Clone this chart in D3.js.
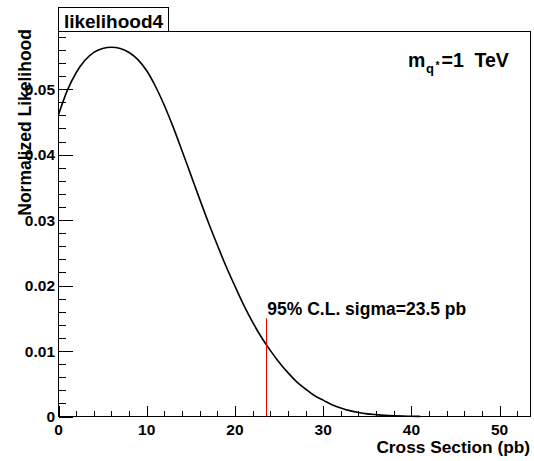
<!DOCTYPE html>
<html>
<head>
<meta charset="utf-8">
<script src="https://cdn.jsdelivr.net/npm/d3@7"></script>
<style>
  html, body { margin: 0; padding: 0; background: #fff; }
  svg { display: block; }
  text { font-family: "Liberation Sans", Arial, Helvetica, sans-serif; font-weight: bold; fill: #000; }
</style>
</head>
<body>
<svg id="chart" width="534" height="461"></svg>
<script>
// Likelihood scan versus signal cross section
const crossSection = [0, 1, 2, 3, 4, 5, 6, 7, 8, 9, 10, 11, 12, 13, 14, 15, 16, 17, 18, 19, 20,
  21, 22, 23, 24, 25, 26, 27, 28, 29, 30, 31, 32, 33, 34, 35, 36, 37, 38, 39, 40, 41];
const likelihood = [0.0461, 0.0498, 0.0525, 0.0544, 0.0556, 0.0562, 0.0564, 0.0562, 0.0556, 0.0545,
  0.0528, 0.0504, 0.0475, 0.0442, 0.0406, 0.0369, 0.0332, 0.0296, 0.0262, 0.0229, 0.0199,
  0.0170, 0.0144, 0.0121, 0.0101, 0.0083, 0.0067, 0.0053, 0.0042, 0.0032, 0.0025,
  0.0018, 0.0013, 0.0009, 0.0006, 0.0004, 0.00028, 0.00018, 0.00011, 0.00006, 0.00003, 0.00001];

// 95% C.L. upper limit marker
const limitValue = 23.5;
const limitMarkerHeight = 0.015;

// Axis ticks and labels
const xMajorTicks = [0, 10, 20, 30, 40, 50];
const xTickLabels = ["0", "10", "20", "30", "40", "50"];
const yMajorTicks = [0, 0.01, 0.02, 0.03, 0.04, 0.05];
const yTickLabels = ["0", "0.01", "0.02", "0.03", "0.04", "0.05"];
const xDomain = [0, 53.5];
const yDomain = [0, 0.0588];

const svg = d3.select("#chart");
const frameLeft = 58.5, frameRight = 530.5, frameTop = 31.5, frameBottom = 416.5;

const x = d3.scaleLinear().domain(xDomain).range([frameLeft, frameRight]);
const y = d3.scaleLinear().domain(yDomain).range([frameBottom, frameTop]);

// frame
svg.append("rect")
  .attr("x", frameLeft).attr("y", frameTop)
  .attr("width", frameRight - frameLeft).attr("height", frameBottom - frameTop)
  .attr("fill", "none").attr("stroke", "#000").attr("stroke-width", 1);

// x axis ticks (drawn inward, minor every 2)
const xMinor = d3.range(0, 53, 2).filter(v => !xMajorTicks.includes(v));
const xAxisMajor = d3.axisTop(x).tickValues(xMajorTicks).tickSize(11).tickFormat("");
const xAxisMinor = d3.axisTop(x).tickValues(xMinor).tickSize(5.5).tickFormat("");
[xAxisMajor, xAxisMinor].forEach(ax => {
  const g = svg.append("g").attr("transform", `translate(0,${frameBottom})`).call(ax);
  g.select(".domain").remove();
  g.selectAll("line").attr("stroke", "#000").attr("shape-rendering", "crispEdges");
});

// y axis ticks (drawn inward, minor every 0.002)
const yMinor = d3.range(0, 59).filter(i => i % 2 === 0 && i % 10 !== 0).map(i => i * 0.001);
const yAxisMajor = d3.axisRight(y).tickValues(yMajorTicks).tickSize(14).tickFormat("");
const yAxisMinor = d3.axisRight(y).tickValues(yMinor).tickSize(7.5).tickFormat("");
[yAxisMajor, yAxisMinor].forEach(ax => {
  const g = svg.append("g").attr("transform", `translate(${frameLeft},0)`).call(ax);
  g.select(".domain").remove();
  g.selectAll("line").attr("stroke", "#000").attr("shape-rendering", "crispEdges");
});

// tick labels
svg.append("g").selectAll("text").data(xMajorTicks).join("text")
  .attr("x", d => x(d)).attr("y", 434.5)
  .attr("text-anchor", "middle").attr("font-size", 15.5)
  .text((d, i) => xTickLabels[i]);

svg.append("g").selectAll("text").data(yMajorTicks).join("text")
  .attr("x", 55).attr("y", d => y(d) + 5.5)
  .attr("text-anchor", "end").attr("font-size", 15.5)
  .text((d, i) => yTickLabels[i]);

// axis titles
svg.append("text")
  .attr("x", 530).attr("y", 452.5)
  .attr("text-anchor", "end").attr("font-size", 17.3)
  .text("Cross Section (pb)");

svg.append("text")
  .attr("transform", "translate(31,29) rotate(-90)")
  .attr("text-anchor", "end").attr("font-size", 17.5)
  .text("Normalized Likelihood");

// likelihood curve
const line = d3.line()
  .x((d, i) => x(crossSection[i]))
  .y(d => y(d))
  .curve(d3.curveMonotoneX);

svg.append("path")
  .datum(likelihood)
  .attr("d", line)
  .attr("fill", "none")
  .attr("stroke", "#000")
  .attr("stroke-width", 1.6);

// limit marker
svg.append("line")
  .attr("x1", Math.round(x(limitValue)) + 0.5).attr("x2", Math.round(x(limitValue)) + 0.5)
  .attr("y1", y(0)).attr("y2", y(limitMarkerHeight))
  .attr("stroke", "#e00000").attr("stroke-width", 1);

svg.append("text")
  .attr("x", x(limitValue) + 1.5).attr("y", 315)
  .attr("font-size", 17.5)
  .text(`95% C.L. sigma=${limitValue} pb`);

// mass label: m with subscript q*, then "=1 TeV"
const mass = svg.append("text").attr("y", 66.5).attr("font-size", 19.5);
mass.append("tspan").attr("x", 408).text("m");
mass.append("tspan").attr("x", 426).attr("y", 72.5).attr("font-size", 13).text("q");
mass.append("tspan").attr("x", 435.5).attr("y", 69).attr("font-size", 10.5).text("*");
mass.append("tspan").attr("x", 441.5).attr("y", 66.5).text("=1");
mass.append("tspan").attr("x", 474.5).text("TeV");

// histogram title box
svg.append("rect")
  .attr("x", 58.5).attr("y", 7.5).attr("width", 110).attr("height", 24)
  .attr("fill", "#fff").attr("stroke", "#000").attr("stroke-width", 1);
svg.append("text")
  .attr("x", 113.5).attr("y", 27.5)
  .attr("text-anchor", "middle").attr("font-size", 19)
  .text("likelihood4");
</script>
</body>
</html>
